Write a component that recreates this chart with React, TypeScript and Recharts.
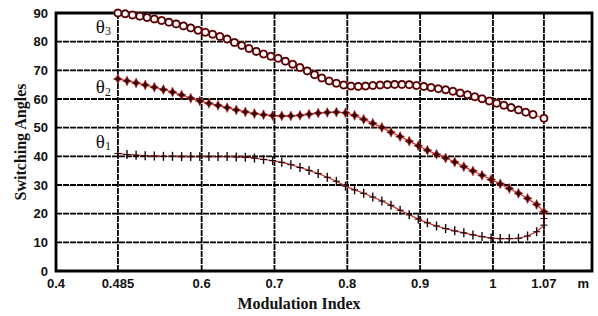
import { LineChart, Line, XAxis, YAxis, CartesianGrid, ReferenceArea, ReferenceDot } from "recharts";

// modulation index samples for theta1 / theta2
const stepX = [
  0.485, 0.4975, 0.51, 0.5225, 0.535, 0.5475, 0.56, 0.5725, 0.585, 0.5975,
  0.61, 0.6225, 0.635, 0.6475, 0.66, 0.6725, 0.685, 0.6975, 0.71, 0.7225,
  0.735, 0.7475, 0.76, 0.7725, 0.785, 0.7975, 0.81, 0.8225, 0.835, 0.8475,
  0.86, 0.8725, 0.885, 0.8975, 0.91, 0.9225, 0.935, 0.9475, 0.96, 0.9725,
  0.985, 0.9975, 1.01, 1.0225, 1.035, 1.0475, 1.06, 1.07,
];

const theta2Values = [
  67.0, 66.3, 65.6, 64.9, 64.1, 63.3, 62.4, 61.4, 60.3, 59.3,
  58.5, 57.8, 57.0, 56.2, 55.5, 54.9, 54.5, 54.2, 54.1, 54.1,
  54.3, 54.7, 55.1, 55.3, 55.4, 55.2, 54.3, 52.9, 51.5, 50.1,
  48.4, 46.9, 45.3, 43.7, 42.1, 40.7, 39.4, 38.0, 36.4, 34.9,
  33.4, 31.9, 30.4, 28.8, 27.1, 25.3, 23.2, 20.7,
];

const theta1X = [...stepX, 1.07];
const theta1Values = [
  41.0, 40.6, 40.4, 40.2, 40.1, 40.0, 40.0, 39.9, 39.9, 39.9,
  39.9, 39.9, 39.9, 39.8, 39.7, 39.4, 38.9, 38.5, 37.9, 37.1,
  36.1, 35.1, 34.0, 32.7, 31.3, 29.6, 28.3, 27.1, 25.8, 24.4,
  22.9, 21.2, 19.6, 18.1, 16.8, 15.7, 14.8, 14.0, 13.3, 12.6,
  12.0, 11.5, 11.3, 11.3, 11.4, 12.2, 13.7, 16.0, 18.3,
];

const theta3X = [
  0.485, 0.495, 0.505, 0.515, 0.525, 0.535, 0.545, 0.555, 0.565, 0.575,
  0.585, 0.595, 0.605, 0.615, 0.625, 0.635, 0.645, 0.655, 0.665, 0.675,
  0.685, 0.695, 0.705, 0.715, 0.725, 0.735, 0.745, 0.755, 0.765, 0.775,
  0.785, 0.795, 0.805, 0.815, 0.825, 0.835, 0.845, 0.855, 0.865, 0.875,
  0.885, 0.895, 0.905, 0.915, 0.925, 0.935, 0.945, 0.955, 0.965, 0.975,
  0.985, 0.995, 1.005, 1.015, 1.025, 1.035, 1.045, 1.055, 1.07,
];
const theta3Values = [
  90.0, 89.7, 89.3, 88.9, 88.4, 87.9, 87.4, 86.8, 86.2, 85.5,
  84.8, 84.0, 83.3, 82.6, 81.8, 80.9, 79.7, 78.7, 77.6, 76.6,
  75.7, 74.9, 74.2, 73.2, 72.1, 71.0, 69.8, 68.5, 67.3, 66.3,
  65.5, 64.9, 64.5, 64.4, 64.5, 64.7, 64.9, 65.0, 65.1, 65.1,
  65.0, 64.7, 64.4, 64.0, 63.6, 63.2, 62.7, 62.1, 61.5, 60.8,
  60.1, 59.3, 58.5, 57.8, 57.0, 56.2, 55.4, 54.6, 53.3,
];

const xTicks = [0.4, 0.485, 0.6, 0.7, 0.8, 0.9, 1, 1.07, 1.124];
const xGrid = [0.485, 0.6, 0.7, 0.8, 0.9, 1, 1.07];
const yTicks = [0, 10, 20, 30, 40, 50, 60, 70, 80, 90];

const zip = (xs: number[], ys: number[]) => xs.map((x, i) => ({ x, y: ys[i] }));
const theta1Data = zip(theta1X, theta1Values);
const theta2Data = zip(stepX, theta2Values);
const theta3Data = zip(theta3X, theta3Values);

const INK = "#1c0606";
const RED = "#d42a2a";

const Circle = (p: any) => (
  <g key={p.index}>
    <circle cx={p.cx} cy={p.cy} r={3.5} fill="#fff" stroke={RED} strokeWidth={2} />
    <circle cx={p.cx} cy={p.cy} r={3.5} fill="none" stroke={INK} strokeWidth={1.1} />
  </g>
);

const Star = (p: any) => {
  const { cx, cy } = p;
  const d = `M${cx},${cy - 5} L${cx + 1.6},${cy - 1.6} L${cx + 4.5},${cy} L${cx + 1.6},${cy + 1.6} L${cx},${cy + 5} L${cx - 1.6},${cy + 1.6} L${cx - 4.5},${cy} L${cx - 1.6},${cy - 1.6} Z`;
  return <path key={p.index} d={d} fill="#3a0606" stroke={RED} strokeWidth={0.6} />;
};

const Plus = (p: any) => (
  <g key={p.index}>
    <line x1={p.cx} y1={p.cy - 4.5} x2={p.cx} y2={p.cy + 4.5} stroke={INK} strokeWidth={1.4} />
    <line x1={p.cx - 3.5} y1={p.cy} x2={p.cx + 3.5} y2={p.cy} stroke={INK} strokeWidth={1.1} />
  </g>
);

const thetaLabel = (sub: string) => (props: any) => {
  const { x, y } = props.viewBox;
  return (
    <text x={x} y={y} textAnchor="middle" dominantBaseline="central" fontFamily="Liberation Serif, serif" fontSize={19} fill="#111">
      θ<tspan fontSize={12} dy={5}>{sub}</tspan>
    </text>
  );
};

const tickStyle = { fontFamily: "Liberation Sans, Arial, sans-serif", fontWeight: 700, fontSize: 13, fill: "#111" };

export default function App() {
  return (
    <div style={{ position: "absolute", left: 0, top: 0, background: "#fff" }}>
      <LineChart width={598} height={316} margin={{ top: 13, right: 6, bottom: 0, left: 0 }}>
        <CartesianGrid stroke="#000" strokeWidth={1.8} strokeDasharray="6 1"
          verticalValues={xGrid} horizontalValues={yTicks} />
        <XAxis dataKey="x" type="number" domain={[0.4, 1.136]} ticks={xTicks} interval={0}
          allowDataOverflow tickLine={false} axisLine={false} height={45} tick={tickStyle}
          tickFormatter={(v: number) => (v === 1.124 ? "m" : String(v))}
          label={{ value: "Modulation Index", position: "insideBottom", offset: 7, dx: -25,
            style: { fontFamily: "Liberation Serif, serif", fontWeight: 700, fontSize: 16, fill: "#111" } }} />
        <YAxis type="number" domain={[0, 90]} ticks={yTicks} interval={0} tickLine={false}
          axisLine={false} width={56} tick={tickStyle}
          label={{ value: "Switching Angles", angle: -90, position: "insideLeft", offset: 20,
            style: { textAnchor: "middle", fontFamily: "Liberation Serif, serif", fontWeight: 700, fontSize: 16, fill: "#111" } }} />
        <ReferenceArea x1={0.4} x2={1.136} y1={0} y2={90} fill="none" stroke="#000" strokeWidth={2.8} />
        <Line data={theta3Data} dataKey="y" stroke={RED} strokeWidth={1} dot={Circle} activeDot={false} isAnimationActive={false} />
        <Line data={theta2Data} dataKey="y" stroke={RED} strokeWidth={1.2} dot={Star} activeDot={false} isAnimationActive={false} />
        <Line data={theta1Data} dataKey="y" stroke={RED} strokeWidth={1.2} dot={Plus} activeDot={false} isAnimationActive={false} />
        <ReferenceDot x={0.465} y={85.3} r={0} fill="none" stroke="none" label={thetaLabel("3")} />
        <ReferenceDot x={0.465} y={64.3} r={0} fill="none" stroke="none" label={thetaLabel("2")} />
        <ReferenceDot x={0.465} y={45.2} r={0} fill="none" stroke="none" label={thetaLabel("1")} />
      </LineChart>
    </div>
  );
}
